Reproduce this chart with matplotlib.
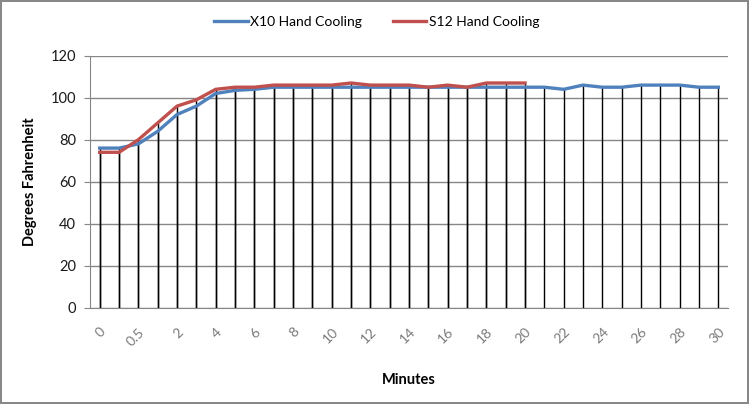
import matplotlib
matplotlib.use("Agg")
import matplotlib.pyplot as plt

plt.rcParams['font.family'] = ['Lato', 'DejaVu Sans']

# minutes (category axis, labels shown on every other one)
minutes = ['0', '0.25', '0.5', '1', '2', '3', '4', '5', '6', '7', '8', '9', '10', '11', '12', '13',
           '14', '15', '16', '17', '18', '19', '20', '21', '22', '23', '24', '25', '26', '27', '28',
           '29', '30']

x10 = [76, 76, 78, 84, 92, 96, 102, 103.5, 104, 105, 105, 105, 105, 105, 105, 105, 105,
       105, 105, 105, 105, 105, 105, 105, 104, 106, 105, 105, 106, 106, 106, 105, 105]
s12 = [74, 74, 80, 88, 96, 99, 104, 105, 105, 106, 106, 106, 106, 107, 106, 106, 106,
       105, 106, 105, 107, 107, 107]

blue = '#4F81BD'
red = '#C0504D'

fig = plt.figure(figsize=(7.49, 4.04), dpi=100)
fig.patch.set_edgecolor('#888888')
fig.patch.set_linewidth(1.5)
ax = fig.add_axes([0.1202, 0.2384, 0.8518, 0.6237])

xb = list(range(len(x10)))
xr = list(range(len(s12)))

# drop lines from each point to the axis
ax.vlines(xb, 0, x10, color='black', lw=1, zorder=2)
ax.vlines(xr, 0, s12, color='black', lw=1, zorder=2)

ax.plot(xb, x10, color=blue, lw=2.4, label='X10 Hand Cooling', zorder=3)
ax.plot(xr, s12, color=red, lw=2.4, label='S12 Hand Cooling', zorder=4)

ax.set_xlim(-0.5, len(minutes) - 0.5)
ax.set_ylim(0, 120)
ax.set_yticks(range(0, 121, 20))
ax.yaxis.grid(True, color='#878787', lw=1)
ax.set_axisbelow(True)

ax.set_xticks(xb[::2])
ax.set_xticklabels(minutes[::2], rotation=45, ha='right', va='top',
                   rotation_mode='anchor', color='#7a7a7a', fontsize=10)
ax.tick_params(axis='x', length=0, pad=13)
ax.tick_params(axis='y', length=4, color='#878787', labelsize=10.5, labelcolor='#1a1a1a', pad=6)

for s in ['top', 'right']:
    ax.spines[s].set_visible(False)
ax.spines['left'].set_color('#878787')
ax.spines['bottom'].set_color('#878787')

ax.set_xlabel('Minutes', fontweight='bold', fontsize=10.5, labelpad=18)
ax.set_ylabel('Degrees Fahrenheit', fontweight='bold', fontsize=10.5, labelpad=10)

fig.legend(loc='center', bbox_to_anchor=(0.503, 0.945), ncol=2, frameon=False,
           fontsize=10, handlelength=2.4, columnspacing=2.2, handletextpad=0.2)

fig.savefig('out.png', dpi=100)
